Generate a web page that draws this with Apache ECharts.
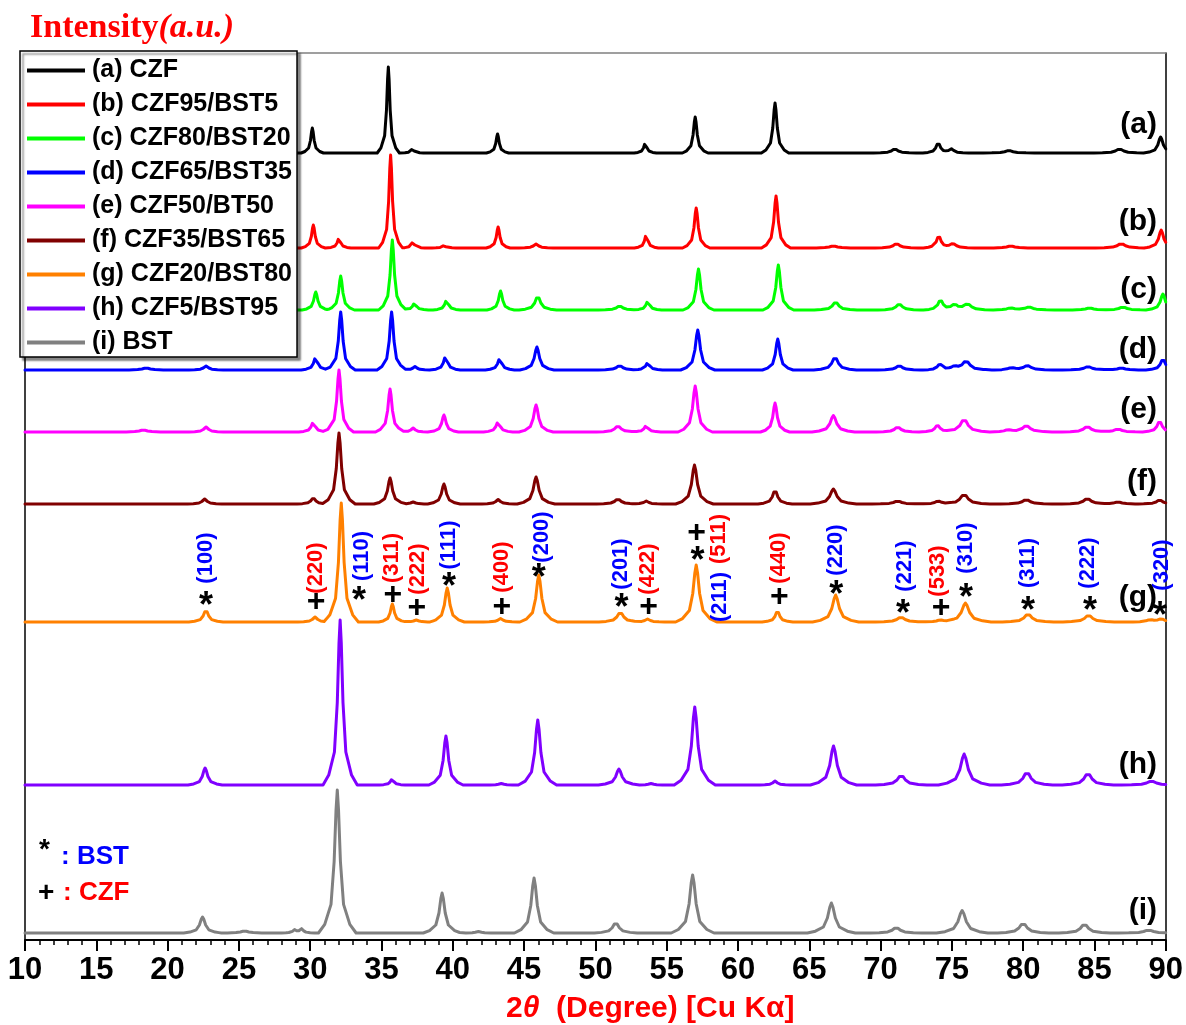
<!DOCTYPE html>
<html>
<head>
<meta charset="utf-8">
<script src="https://cdn.jsdelivr.net/npm/echarts@6/dist/echarts.min.js"></script>
<style>
  html, body { margin: 0; padding: 0; background: #ffffff; }
  #chart { width: 1186px; height: 1025px; }
</style>
</head>
<body>
<div id="chart"></div>
<script>
// XRD patterns of CZF / BST composites, stacked with vertical offsets.
const SANS = '"Liberation Sans", Arial, Helvetica, sans-serif';
const SERIF = '"Liberation Serif", "Times New Roman", serif';

const sampleNames = [
  '(a) CZF', '(b) CZF95/BST5', '(c) CZF80/BST20', '(d) CZF65/BST35',
  '(e) CZF50/BT50', '(f) CZF35/BST65', '(g) CZF20/BST80', '(h) CZF5/BST95', '(i) BST'
];
const sampleTags = ['(a)', '(b)', '(c)', '(d)', '(e)', '(f)', '(g)', '(h)', '(i)'];
const lineColors = ['#000000', '#ff0000', '#00ff00', '#0000ff', '#ff00ff', '#800000', '#ff8000', '#8000ff', '#808080'];

// stacking offset of each pattern (a.u.)
const baselines = [787, 692, 630, 570, 508, 436, 318, 155, 7];
// reflection half-widths (deg) used when a peak has no own width
const defaultWidths = [0.13, 0.14, 0.16, 0.17, 0.17, 0.19, 0.2, 0.2, 0.22];

// reflections: [2θ, intensity, half-width]
const peaksA = [[30.15, 25], [35.48, 86], [37.16, 4], [43.14, 19], [53.5, 10], [57.0, 36, 0.15], [62.6, 50, 0.16],
  [71.0, 4, 0.25], [74.04, 10, 0.18], [74.97, 4, 0.2], [79.0, 2.5, 0.3], [86.76, 4, 0.3], [89.64, 16, 0.2]];
const peaksB = [[30.22, 23], [32.02, 10], [35.64, 93], [37.2, 6], [39.38, 2.5], [43.18, 21], [45.84, 4, 0.2],
  [53.57, 13.5], [57.07, 40, 0.16], [62.67, 52, 0.17], [66.69, 2, 0.3], [71.12, 4.5, 0.25], [74.08, 12, 0.18],
  [75.09, 4.5, 0.25], [79.13, 2, 0.3], [86.88, 4.5, 0.3], [89.68, 18, 0.2]];
const peaksC = [[30.39, 18], [32.14, 34], [35.76, 70], [37.32, 7], [39.57, 10], [43.35, 19], [45.96, 14, 0.22],
  [51.7, 4, 0.25], [53.68, 9], [57.23, 41, 0.18], [62.83, 45, 0.18], [66.85, 8, 0.25], [71.31, 6, 0.25],
  [74.2, 10, 0.2], [75.2, 5, 0.25], [76.1, 6, 0.3], [79.13, 2, 0.3], [80.41, 3, 0.3], [84.66, 2, 0.3],
  [87.0, 3, 0.3], [89.8, 16, 0.2]];
const peaksD = [[18.5, 2, 0.3], [22.7, 4, 0.2], [30.39, 13], [32.14, 58], [35.71, 58], [37.35, 3.5], [39.5, 14],
  [43.3, 12], [45.9, 23, 0.2], [51.7, 4.5, 0.25], [53.68, 7.5], [57.18, 40, 0.2], [62.79, 31, 0.18],
  [66.81, 13, 0.25], [71.31, 4.5, 0.25], [74.16, 6, 0.2], [75.2, 3, 0.25], [76.0, 9, 0.3], [79.17, 2, 0.3],
  [80.3, 4.5, 0.3], [84.55, 3.5, 0.3], [86.88, 2, 0.3], [89.8, 11, 0.2]];
const peaksE = [[18.3, 2, 0.3], [22.7, 5, 0.2], [30.22, 10], [32.02, 62], [35.6, 43], [37.22, 4], [39.38, 17],
  [43.18, 10.5], [45.84, 27, 0.2], [51.58, 6, 0.25], [53.57, 6.5], [57.0, 46, 0.2], [62.6, 29, 0.17],
  [66.69, 16.5, 0.25], [71.2, 5, 0.25], [73.99, 7, 0.2], [75.86, 13, 0.3], [78.94, 2, 0.3], [80.22, 6.5, 0.3],
  [84.5, 5.5, 0.3], [86.65, 3, 0.3], [89.57, 11, 0.2]];
const peaksF = [[22.6, 5, 0.2], [30.22, 6], [32.02, 71], [35.6, 26], [37.22, 2], [39.38, 20], [43.18, 4.5],
  [45.84, 27, 0.22], [51.58, 5, 0.25], [53.57, 3], [56.95, 39, 0.22], [62.6, 14, 0.2], [66.69, 15, 0.27],
  [71.2, 3, 0.3], [74.04, 3, 0.25], [75.86, 10, 0.3], [80.22, 4.5, 0.3], [84.5, 5.5, 0.3], [86.65, 2, 0.3],
  [89.57, 4, 0.25]];
const peaksG = [[22.69, 12], [30.34, 5], [32.18, 119], [35.76, 18, 0.16], [37.44, 2], [39.61, 34], [43.35, 3.5],
  [46.03, 47, 0.22], [51.75, 10, 0.25], [53.66, 3], [57.07, 57, 0.24], [62.77, 11, 0.18], [66.85, 27, 0.27],
  [71.43, 5, 0.3], [74.16, 2, 0.25], [75.95, 19, 0.3], [80.34, 8, 0.3], [84.59, 7, 0.3], [88.9, 2, 0.3],
  [89.68, 3, 0.25]];
const peaksH = [[22.63, 17], [32.1, 165], [35.75, 6, 0.15], [39.52, 49], [43.4, 1.5], [45.96, 65, 0.22],
  [51.65, 16, 0.24], [53.9, 1.5], [56.97, 78, 0.24], [62.6, 4, 0.18], [66.7, 39, 0.27], [71.45, 10, 0.3],
  [75.86, 31, 0.3], [80.27, 13, 0.3], [84.54, 12, 0.3], [89.0, 4, 0.35]];
const peaksI = [[22.45, 16], [25.4, 2, 0.3], [28.9, 3, 0.15], [29.4, 4, 0.15], [31.9, 143], [39.25, 40],
  [41.8, 1.5], [45.7, 55, 0.23], [51.43, 10.5, 0.25], [56.82, 58, 0.25], [66.55, 30, 0.28], [71.1, 5.5, 0.3],
  [75.72, 22.5, 0.3], [80.0, 10, 0.3], [84.3, 9, 0.3], [88.8, 3, 0.35]];
const peakSets = [peaksA, peaksB, peaksC, peaksD, peaksE, peaksF, peaksG, peaksH, peaksI];

// phase markers on pattern (g): [2θ, level]
const bstMarks = [[22.7, 342], [33.42, 347], [39.73, 361], [46.03, 370], [51.84, 340], [57.16, 387],
  [66.9, 353], [71.57, 334], [76.0, 350], [80.34, 337], [84.68, 337], [89.59, 332]];
const czfMarks = [[30.41, 338], [35.8, 345], [37.48, 332], [43.44, 333], [53.73, 333], [57.09, 407],
  [62.9, 343], [74.25, 332]];
// Miller indices: [2θ, level, hkl]
const bstIndices = [[22.7, 382, '(100)'], [33.63, 384, '(110)'], [39.73, 395, '(111)'], [46.24, 403, '(200)'],
  [51.77, 376, '(201)'], [58.77, 343, '(211)'], [66.9, 390, '(220)'], [71.71, 374, '(221)'],
  [76.0, 392, '(310)'], [80.34, 377, '(311)'], [84.55, 377, '(222)'], [89.73, 375, '(320)']];
const czfIndices = [[30.41, 372, '(220)'], [35.73, 382, '(311)'], [37.55, 371, '(222)'], [43.44, 373, '(400)'],
  [53.66, 371, '(422)'], [58.63, 401, '(511)'], [62.84, 382, '(440)'], [74.04, 369, '(533)']];

// Lorentzian-like reflection outline: [offset in half-widths, relative height]
const PROFILE = [[-6, 0], [-4, 0.06], [-2, 0.2], [-1, 0.5], [-0.4, 0.86], [0, 1], [0.4, 0.86], [1, 0.5], [2, 0.2], [4, 0.06], [6, 0]];
function profileAt(u) {
  if (u <= -6 || u >= 6) return 0;
  for (let k = 1; k < PROFILE.length; k++) {
    const [u1, v1] = PROFILE[k];
    if (u <= u1) {
      const [u0, v0] = PROFILE[k - 1];
      return v0 + (v1 - v0) * (u - u0) / (u1 - u0);
    }
  }
  return 0;
}
// pattern vertices: the outline corners of every reflection, summed where they overlap
function buildTrace(peaks, w0, base) {
  const xs = new Set([10, 90]);
  peaks.forEach(([p, , w]) => {
    PROFILE.forEach(([u]) => {
      const x = +(p + u * (w || w0)).toFixed(4);
      if (x >= 10 && x <= 90) xs.add(x);
    });
  });
  return [...xs].sort((a, b) => a - b).map(x => [
    x, base + peaks.reduce((s, [p, h, w]) => s + h * profileAt((x - p) / (w || w0)), 0)
  ]);
}

const lineSeries = sampleNames.map((name, i) => ({
  name,
  type: 'line',
  data: buildTrace(peakSets[i], defaultWidths[i], baselines[i]),
  symbol: 'none',
  showSymbol: false,
  silent: true,
  z: 2,
  lineStyle: { color: lineColors[i], width: 3, join: 'round', cap: 'round' },
  itemStyle: { color: lineColors[i] }
}));

function markSeries(points, glyph, size, dy) {
  return {
    type: 'scatter', data: points, symbol: 'circle', symbolSize: 0.5, silent: true, z: 5,
    itemStyle: { color: '#000', opacity: 1 },
    label: {
      show: true, position: 'inside', formatter: glyph, color: '#000', opacity: 1,
      textBorderWidth: 0, textShadowBlur: 0,
      fontFamily: SANS, fontWeight: 'bold', fontSize: size, offset: [0, dy]
    }
  };
}
function indexSeries(items, color) {
  return {
    type: 'scatter', symbol: 'circle', symbolSize: 0.5, silent: true, z: 5,
    data: items.map(([x, y, t]) => ({ value: [x, y], name: t })),
    itemStyle: { color, opacity: 1 },
    label: {
      show: true, position: 'inside', formatter: '{b}', rotate: 90, color, opacity: 1,
      textBorderWidth: 0, textShadowBlur: 0,
      align: 'center', verticalAlign: 'middle',
      fontFamily: SANS, fontWeight: 'bold', fontSize: 22
    }
  };
}

const tagCenters = [125, 222, 290, 350, 410, 482, 598, 765, 911];

const chart = echarts.init(document.getElementById('chart'), null, { renderer: 'canvas' });
chart.setOption({
  animation: false,
  backgroundColor: '#ffffff',
  title: [
    {
      text: '{n|Intensity}{i|(a.u.)}', left: 30, top: 11, padding: 0,
      textStyle: {
        rich: {
          n: { fontFamily: SERIF, fontWeight: 'bold', fontSize: 34, color: '#ff0000' },
          i: { fontFamily: SERIF, fontWeight: 'bold', fontStyle: 'italic', fontSize: 34, color: '#ff0000' }
        }
      }
    },
    {
      text: '{n|2}{t|θ}{n|  (Degree) [Cu K}{n|α}{n|]}', left: 506, top: 994, padding: 0,
      textStyle: {
        rich: {
          n: { fontFamily: SANS, fontWeight: 'bold', fontSize: 30, color: '#ff0000' },
          t: { fontFamily: SANS, fontWeight: 'bold', fontStyle: 'italic', fontSize: 30, color: '#ff0000' }
        }
      }
    }
  ],
  legend: {
    data: sampleNames,
    icon: 'rect',
    orient: 'vertical', left: 20, top: 51,
    itemWidth: 58, itemHeight: 4, itemGap: 9,
    padding: [7, 5, 2, 7],
    backgroundColor: '#ffffff', borderColor: '#000000', borderWidth: 1.5,
    shadowColor: 'rgba(0,0,0,0.45)', shadowBlur: 2, shadowOffsetX: 3, shadowOffsetY: 3,
    selectedMode: false,
    textStyle: { fontFamily: SANS, fontWeight: 'bold', fontSize: 25, lineHeight: 24, color: '#000', padding: [0, 0, 0, 2] }
  },
  grid: { left: 25, right: 18, top: 53, bottom: 85, containLabel: false },
  xAxis: [
    {
      type: 'value', min: 10, max: 90, interval: 5, position: 'bottom',
      axisLine: { show: true, onZero: false, lineStyle: { color: '#000', width: 2 } },
      axisTick: { show: true, length: 11, lineStyle: { color: '#000', width: 2 } },
      minorTick: { show: true, splitNumber: 5, length: 5, lineStyle: { color: '#000', width: 1.5 } },
      axisLabel: { fontFamily: SANS, fontWeight: 'bold', fontSize: 31, color: '#000', margin: 15 },
      splitLine: { show: false }, minorSplitLine: { show: false }
    },
    {
      type: 'value', min: 10, max: 90, position: 'top',
      axisLine: { show: true, onZero: false, lineStyle: { color: '#808080', width: 1.5 } },
      axisTick: { show: false }, axisLabel: { show: false }, splitLine: { show: false }
    }
  ],
  yAxis: [
    {
      type: 'value', min: 0, max: 887, position: 'left',
      axisLine: { show: true, onZero: false, lineStyle: { color: '#000', width: 1.5 } },
      axisTick: { show: false }, axisLabel: { show: false }, splitLine: { show: false }
    },
    {
      type: 'value', min: 0, max: 887, position: 'right',
      axisLine: { show: true, onZero: false, lineStyle: { color: '#000', width: 1.5 } },
      axisTick: { show: false }, axisLabel: { show: false }, splitLine: { show: false }
    }
  ],
  series: [
    ...lineSeries,
    markSeries(bstMarks, '*', 36, 9),
    markSeries(czfMarks, '+', 32, 0),
    indexSeries(bstIndices, '#0000ff'),
    indexSeries(czfIndices, '#ff0000')
  ],
  graphic: [
    ...sampleTags.map((t, i) => ({
      type: 'text', x: 1157, y: tagCenters[i], z: 10, silent: true,
      style: { text: t, align: 'right', verticalAlign: 'middle', font: 'bold 30px ' + SANS, fill: '#000' }
    })),
    {
      type: 'text', x: 39, y: 850, z: 10, silent: true,
      style: { text: '*', verticalAlign: 'middle', font: 'bold 28px ' + SANS, fill: '#000' }
    },
    {
      type: 'text', x: 61, y: 857, z: 10, silent: true,
      style: { text: ': BST', verticalAlign: 'middle', font: 'bold 26px ' + SANS, fill: '#0000ff' }
    },
    {
      type: 'text', x: 38, y: 893, z: 10, silent: true,
      style: { text: '+', verticalAlign: 'middle', font: 'bold 28px ' + SANS, fill: '#000' }
    },
    {
      type: 'text', x: 63, y: 893, z: 10, silent: true,
      style: { text: ': CZF', verticalAlign: 'middle', font: 'bold 26px ' + SANS, fill: '#ff0000' }
    }
  ]
});
</script>
</body>
</html>
